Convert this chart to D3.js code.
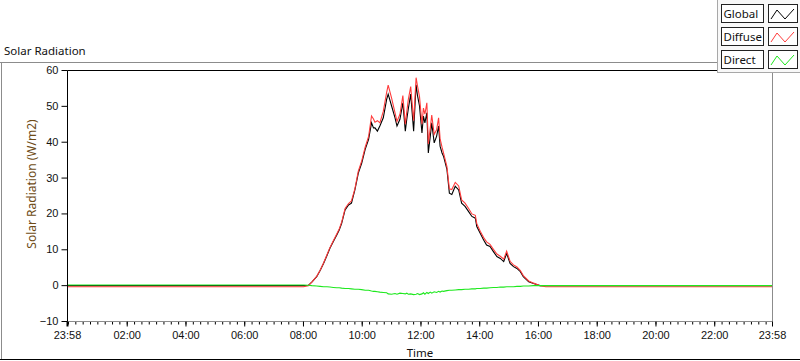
<!DOCTYPE html>
<html lang="en">
<head>
<meta charset="UTF-8">
<title>Solar Radiation</title>
<script src="https://cdnjs.cloudflare.com/ajax/libs/d3/7.8.5/d3.min.js"></script>
<style>
    body { margin: 0; background: #fff; }
    svg { display: block; font-family: "Noto Sans", "Open Sans", sans-serif; }
    .tick text { font-size: 11px; fill: #111; }
    .plot-line { fill: none; stroke-width: 1.1; }
</style>
</head>
<body>
<div id="chart"></div>
<script>
// time of each sample, minutes from midnight (-2 = 23:58 of the day before)
var minutes = [-2, 480, 490, 497, 507, 514, 521, 528, 534, 541, 548, 553, 558, 565, 572, 578,
    585, 592, 599, 606, 613, 619, 623, 626, 631, 636, 643, 650, 653, 660, 667, 671, 677, 683,
    688, 691, 694, 699, 705, 710, 713, 717, 722, 725, 728, 732, 735, 739, 742, 747, 752, 756,
    759, 763, 766, 773, 778, 783, 790, 797, 803, 810, 817, 824, 831, 834, 841, 848, 854, 861,
    868, 875, 882, 889, 895, 902, 909, 916, 923, 929, 940, 950, 963, 975, 1438];

var globalVals = [0, 0, 0.1, 1.0, 2.5, 4.2, 6.2, 8.4, 10.4, 12.3, 14.1, 15.5, 17.4, 21.1, 22.5, 23.0,
    26.7, 31.4, 34.2, 38.0, 40.8, 45.4, 44.0, 44.0, 43.1, 44.5, 46.8, 52.0, 53.4, 50.1, 46.8, 44.5, 46.4, 51.0,
    43.1, 46.4, 49.2, 53.4, 43.1, 56.0, 52.9, 50.1, 42.6, 47.3, 45.4, 48.2, 37.0, 41.7, 45.4, 39.8, 41.7, 44.5,
    38.9, 37.0, 36.1, 32.4, 25.8, 25.4, 27.7, 26.7, 23.0, 22.1, 20.7, 19.3, 18.8, 16.5, 14.6, 12.7, 11.3, 10.9,
    9.5, 8.1, 7.6, 6.7, 9.0, 6.2, 5.3, 4.8, 3.9, 2.5, 1.1, 0.6, 0, 0, 0];

var diffuseVals = [-0.3, -0.3, 0.0, 1.0, 2.6, 4.3, 6.3, 8.6, 10.6, 12.5, 14.4, 15.8, 17.7, 21.5, 22.9, 23.6,
    27.0, 31.9, 34.8, 38.6, 41.6, 47.3, 46.5, 45.6, 46.0, 45.4, 48.6, 54.0, 55.9, 52.3, 48.2, 45.8, 47.8, 53.0,
    45.0, 48.5, 51.8, 55.5, 46.0, 58.0, 55.6, 52.7, 45.0, 49.5, 47.8, 51.0, 39.5, 44.0, 47.6, 42.2, 43.5, 46.8,
    41.0, 38.6, 37.0, 33.2, 27.0, 26.8, 28.8, 27.8, 23.9, 23.0, 21.6, 20.0, 19.6, 17.3, 15.2, 13.4, 12.2, 11.5,
    10.1, 8.8, 8.2, 7.4, 9.6, 6.8, 5.8, 5.2, 4.2, 2.8, 1.3, 0.7, 0, -0.3, -0.3];

var directVals = [0.2, 0.2, 0.1, 0.0, -0.1, -0.2, -0.3, -0.3, -0.4, -0.5, -0.6, -0.6, -0.7, -0.8, -0.8, -0.9,
    -1.0, -1.0, -1.1, -1.3, -1.3, -1.5, -1.6, -1.6, -1.7, -1.8, -1.9, -2.0, -2.3, -2.4, -2.2, -2.4, -2.1, -2.2,
    -2.3, -2.1, -2.4, -2.3, -2.5, -2.4, -2.2, -2.5, -2.3, -2.0, -2.4, -1.9, -2.2, -1.8, -2.1, -1.7, -1.9, -1.6,
    -1.8, -1.5, -1.6, -1.4, -1.3, -1.3, -1.2, -1.1, -1.1, -1.0, -1.0, -0.9, -0.9, -0.8, -0.8, -0.7, -0.7, -0.6,
    -0.5, -0.5, -0.4, -0.4, -0.3, -0.3, -0.3, -0.2, -0.2, -0.1, -0.1, 0.0, 0.0, 0.0, 0.0];

var seriesNames = ["Global", "Diffuse", "Direct"];
var seriesColors = ["#000000", "#ff3b3b", "#1ee81e"];

var yTicks = [-10, 0, 10, 20, 30, 40, 50, 60];
var xTickMinutes = [-2, 120, 240, 360, 480, 600, 720, 840, 960, 1080, 1200, 1320, 1438];
var xTickLabels = ["23:58", "02:00", "04:00", "06:00", "08:00", "10:00", "12:00",
    "14:00", "16:00", "18:00", "20:00", "22:00", "23:58"];

var W = 800, H = 361;
var plotLeft = 67.5, plotRight = 772.5, plotTop = 70.5, plotBottom = 321.5;

var svg = d3.select("#chart").append("svg")
    .attr("width", W)
    .attr("height", H);

var x = d3.scaleLinear().domain([-2, 1438]).range([plotLeft, plotRight]);
var y = d3.scaleLinear().domain([-10, 60]).range([plotBottom, plotTop]);

// outer panel frame
svg.append("line").attr("x1", 0).attr("x2", 718).attr("y1", 62.5).attr("y2", 62.5)
    .attr("stroke", "#8c8c8c");
svg.append("line").attr("x1", 1.5).attr("x2", 1.5).attr("y1", 62).attr("y2", 360)
    .attr("stroke", "#8c8c8c");
svg.append("line").attr("x1", 0).attr("x2", W).attr("y1", 359.5).attr("y2", 359.5)
    .attr("stroke", "#000");

svg.append("text")
    .attr("x", 4).attr("y", 55)
    .attr("font-size", 11.5).attr("fill", "#111")
    .text("Solar Radiation");

// plot lines
svg.append("clipPath").attr("id", "clip")
    .append("rect")
    .attr("x", plotLeft).attr("y", plotTop)
    .attr("width", plotRight - plotLeft).attr("height", plotBottom - plotTop);

var lineGen = function (vals) {
    return d3.line()
        .x(function (d, i) { return x(minutes[i]); })
        .y(function (d) { return y(d); })(vals);
};

var plotG = svg.append("g").attr("clip-path", "url(#clip)");
[globalVals, diffuseVals, directVals].forEach(function (vals, i) {
    plotG.append("path")
        .attr("class", "plot-line")
        .attr("stroke", seriesColors[i])
        .attr("d", lineGen(vals));
});

// frame: top black, right grey
svg.append("line").attr("x1", plotLeft).attr("x2", plotRight).attr("y1", plotTop).attr("y2", plotTop)
    .attr("stroke", "#000");
svg.append("line").attr("x1", plotRight).attr("x2", plotRight).attr("y1", plotTop).attr("y2", plotBottom)
    .attr("stroke", "#8c8c8c");

// x axis
var minorTicks = d3.range(0, 1440, 15);
svg.append("g")
    .attr("transform", "translate(0," + plotBottom + ")")
    .call(d3.axisBottom(x).tickValues(minorTicks).tickSize(3).tickFormat("").offset(0))
    .call(function (g) { g.select(".domain").remove(); });

var xAxis = svg.append("g")
    .attr("transform", "translate(0," + plotBottom + ")")
    .call(d3.axisBottom(x)
        .tickValues(xTickMinutes)
        .tickFormat(function (d, i) { return xTickLabels[i]; })
        .tickSize(5).tickSizeOuter(0).tickPadding(5).offset(0));
xAxis.select(".domain").attr("stroke", "#8c8c8c");
xAxis.select(".tick line").attr("stroke-width", 2);

svg.append("text")
    .attr("x", (plotLeft + plotRight) / 2).attr("y", 357)
    .attr("text-anchor", "middle")
    .attr("font-size", 11.5).attr("fill", "#111")
    .text("Time");

// y axis
var yAxis = svg.append("g")
    .attr("transform", "translate(" + plotLeft + ",0)")
    .call(d3.axisLeft(y).tickValues(yTicks).tickSize(6).tickSizeOuter(0).tickPadding(3).offset(0));
yAxis.select(".domain").attr("stroke", "#000");

svg.append("text")
    .attr("transform", "translate(36," + 184 + ") rotate(-90)")
    .attr("text-anchor", "middle")
    .attr("font-size", 12).attr("fill", "#6e4b16")
    .text("Solar Radiation (W/m2)");

// legend
var legend = svg.append("g");
legend.append("rect")
    .attr("x", 717.5).attr("y", -1).attr("width", 84).attr("height", 73.5)
    .attr("fill", "#f8f8f8").attr("stroke", "#a8a8a8");

seriesNames.forEach(function (name, i) {
    var y0 = Math.round(3.5 + i * 23.2);
    legend.append("rect")
        .attr("x", 721.5).attr("y", y0 + 0.5)
        .attr("width", 42).attr("height", 18)
        .attr("fill", "#fff").attr("stroke", "#222");
    legend.append("text")
        .attr("x", 723.5).attr("y", y0 + 14)
        .attr("font-size", 11.5).attr("fill", "#111")
        .text(name);
    legend.append("rect")
        .attr("x", 768.5).attr("y", y0 + 0.5)
        .attr("width", 29).attr("height", 18)
        .attr("fill", "#fff").attr("stroke", "#222");
    legend.append("polyline")
        .attr("points", [[771, y0 + 15], [777, y0 + 6], [785, y0 + 15], [794, y0 + 5]].join(" "))
        .attr("fill", "none")
        .attr("stroke", seriesColors[i]);
});
</script>
</body>
</html>
